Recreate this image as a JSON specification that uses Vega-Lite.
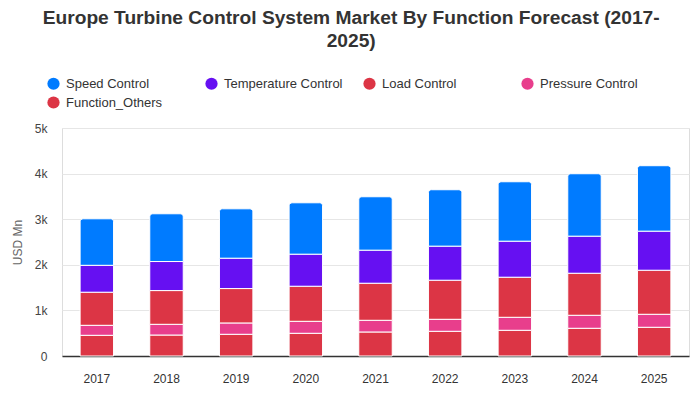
{
  "$schema": "https://vega.github.io/schema/vega-lite/v6.json",
  "width": 627,
  "height": 228,
  "autosize": "none",
  "padding": {"left": 62, "top": 128, "right": 11, "bottom": 44},
  "background": "white",
  "title": {
    "text": ["Europe Turbine Control System Market By Function Forecast (2017-", "2025)"],
    "anchor": "middle",
    "frame": "bounds",
    "fontSize": 19.2,
    "font": "Liberation Sans",
    "fontWeight": "bold",
    "color": "#333333",
    "lineHeight": 23,
    "offset": 26,
    "dx": 1
  },
  "data": {
    "values": [
      {"year": "2017", "series": "Function_Others", "value": 454},
      {"year": "2017", "series": "Pressure Control", "value": 219},
      {"year": "2017", "series": "Load Control", "value": 726},
      {"year": "2017", "series": "Temperature Control", "value": 590},
      {"year": "2017", "series": "Speed Control", "value": 1020},
      {"year": "2018", "series": "Function_Others", "value": 460},
      {"year": "2018", "series": "Pressure Control", "value": 235},
      {"year": "2018", "series": "Load Control", "value": 740},
      {"year": "2018", "series": "Temperature Control", "value": 637},
      {"year": "2018", "series": "Speed Control", "value": 1047},
      {"year": "2019", "series": "Function_Others", "value": 476},
      {"year": "2019", "series": "Pressure Control", "value": 249},
      {"year": "2019", "series": "Load Control", "value": 754},
      {"year": "2019", "series": "Temperature Control", "value": 666},
      {"year": "2019", "series": "Speed Control", "value": 1083},
      {"year": "2020", "series": "Function_Others", "value": 498},
      {"year": "2020", "series": "Pressure Control", "value": 263},
      {"year": "2020", "series": "Load Control", "value": 769},
      {"year": "2020", "series": "Temperature Control", "value": 703},
      {"year": "2020", "series": "Speed Control", "value": 1127},
      {"year": "2021", "series": "Function_Others", "value": 527},
      {"year": "2021", "series": "Pressure Control", "value": 256},
      {"year": "2021", "series": "Load Control", "value": 813},
      {"year": "2021", "series": "Temperature Control", "value": 725},
      {"year": "2021", "series": "Speed Control", "value": 1171},
      {"year": "2022", "series": "Function_Others", "value": 542},
      {"year": "2022", "series": "Pressure Control", "value": 263},
      {"year": "2022", "series": "Load Control", "value": 857},
      {"year": "2022", "series": "Temperature Control", "value": 747},
      {"year": "2022", "series": "Speed Control", "value": 1237},
      {"year": "2023", "series": "Function_Others", "value": 564},
      {"year": "2023", "series": "Pressure Control", "value": 285},
      {"year": "2023", "series": "Load Control", "value": 879},
      {"year": "2023", "series": "Temperature Control", "value": 790},
      {"year": "2023", "series": "Speed Control", "value": 1303},
      {"year": "2024", "series": "Function_Others", "value": 608},
      {"year": "2024", "series": "Pressure Control", "value": 285},
      {"year": "2024", "series": "Load Control", "value": 922},
      {"year": "2024", "series": "Temperature Control", "value": 813},
      {"year": "2024", "series": "Speed Control", "value": 1369},
      {"year": "2025", "series": "Function_Others", "value": 630},
      {"year": "2025", "series": "Pressure Control", "value": 285},
      {"year": "2025", "series": "Load Control", "value": 966},
      {"year": "2025", "series": "Temperature Control", "value": 857},
      {"year": "2025", "series": "Speed Control", "value": 1435}
    ]
  },
  "transform": [
    {"calculate": "indexof(['Function_Others', 'Pressure Control', 'Load Control', 'Temperature Control', 'Speed Control'], datum.series)", "as": "rank"},
    {"stack": "value", "groupby": ["year"], "sort": [{"field": "rank", "order": "ascending"}], "as": ["v0", "v1"]}
  ],
  "encoding": {
    "x": {
      "field": "year",
      "type": "nominal",
      "scale": {"paddingInner": 0.52, "paddingOuter": 0.26},
      "axis": {
        "title": null,
        "labelAngle": 0,
        "labelFont": "Liberation Sans",
        "labelFontSize": 12,
        "labelColor": "#333333",
        "labelPadding": 17,
        "ticks": false,
        "domainColor": "#333333",
        "domainWidth": 1.5
      }
    },
    "y": {
      "field": "v0",
      "type": "quantitative",
      "scale": {"domain": [0, 5000], "nice": false},
      "axis": {
        "title": "USD Mn",
        "titleFont": "Liberation Sans",
        "titleFontSize": 12,
        "titleFontWeight": "normal",
        "titleColor": "#666666",
        "titlePadding": 10,
        "values": [0, 1000, 2000, 3000, 4000, 5000],
        "labelExpr": "datum.value == 0 ? '0' : format(datum.value, '~s')",
        "labelFont": "Liberation Sans",
        "labelFontSize": 12,
        "labelColor": "#444444",
        "labelPadding": 15,
        "ticks": false,
        "domain": false,
        "gridColor": "#e6e6e6"
      }
    },
    "y2": {"field": "v1"},
    "color": {
      "field": "series",
      "type": "nominal",
      "scale": {
        "domain": ["Speed Control", "Temperature Control", "Load Control", "Pressure Control", "Function_Others"],
        "range": ["#007bff", "#6610f2", "#dc3545", "#e83e8c", "#dc3545"]
      },
      "legend": {
        "title": null,
        "orient": "none",
        "legendX": -15,
        "legendY": -51,
        "direction": "horizontal",
        "columns": 4,
        "gridAlign": "all",
        "columnPadding": 20,
        "rowPadding": 5,
        "symbolType": "circle",
        "symbolSize": 150,
        "symbolStrokeWidth": 0,
        "labelFont": "Liberation Sans",
        "labelFontSize": 13,
        "labelColor": "#333333",
        "labelOffset": 6,
        "labelLimit": 200
      }
    }
  },
  "layer": [
    {
      "transform": [{"filter": "datum.series !== 'Speed Control'"}],
      "mark": {"type": "bar", "stroke": "white", "strokeWidth": 1}
    },
    {
      "transform": [{"filter": "datum.series === 'Speed Control'"}],
      "mark": {"type": "bar", "stroke": "white", "strokeWidth": 1, "cornerRadiusTopLeft": 3, "cornerRadiusTopRight": 3}
    }
  ]
}
